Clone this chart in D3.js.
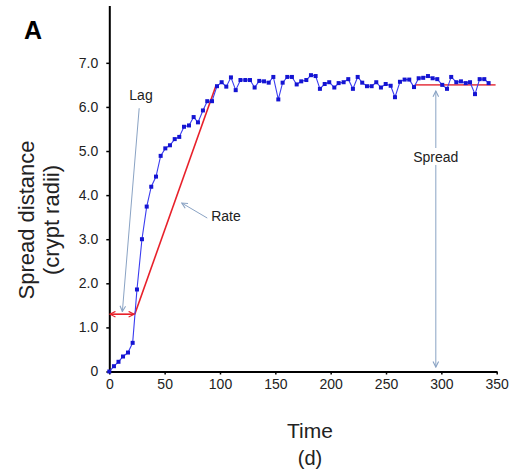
<!DOCTYPE html>
<html>
<head>
<meta charset="utf-8">
<script src="https://cdn.jsdelivr.net/npm/d3@7"></script>
<style>
  body { margin: 0; background: #fff; }
  text { font-family: "Liberation Sans", Arial, sans-serif; }
</style>
</head>
<body>
<svg width="509" height="471"></svg>
<script>
// time (d) and spread distance (crypt radii)
const times = [0, 4.2, 8.3, 12.4, 16.9, 21.1, 25.0, 29.5, 33.8, 37.9, 42.2, 46.4, 50.6, 54.8, 59.1, 63.2,
  67.5, 72.0, 76.2, 80.1, 84.6, 88.5, 92.8, 97.3, 101.5, 105.7, 109.9, 114.2, 118.5, 122.9, 127.1,
  131.3, 135.5, 139.8, 144.0, 148.2, 152.7, 156.6, 160.8, 165.0, 169.3, 173.4, 178.0, 182.2, 186.4,
  190.3, 194.6, 198.7, 203.3, 207.2, 211.7, 215.9, 220.1, 224.4, 228.5, 232.8, 237.0, 241.2, 245.4,
  249.7, 254.2, 258.1, 262.6, 266.8, 271.0, 275.3, 279.5, 283.6, 287.9, 292.1, 296.3, 300.8, 305.1,
  308.9, 313.5, 317.7, 322.0, 325.9, 330.4, 334.6, 338.8, 342.7];
const spread = [0, 0.12, 0.22, 0.34, 0.43, 0.65, 1.86, 3.00, 3.74, 4.19, 4.42, 4.89, 5.06, 5.13, 5.27, 5.32,
  5.55, 5.58, 5.77, 5.65, 5.92, 6.13, 6.13, 6.47, 6.56, 6.46, 6.67, 6.38, 6.61, 6.61, 6.61,
  6.44, 6.59, 6.58, 6.55, 6.68, 6.17, 6.55, 6.68, 6.68, 6.51, 6.58, 6.61, 6.72, 6.70,
  6.41, 6.52, 6.56, 6.44, 6.54, 6.56, 6.63, 6.41, 6.68, 6.55, 6.47, 6.47, 6.56, 6.44,
  6.52, 6.48, 6.22, 6.57, 6.62, 6.62, 6.45, 6.65, 6.66, 6.70, 6.65, 6.63, 6.50, 6.41,
  6.68, 6.56, 6.58, 6.54, 6.56, 6.29, 6.63, 6.63, 6.54];

const xTicks = [0, 50, 100, 150, 200, 250, 300, 350];
const yTicks = [0, 1, 2, 3, 4, 5, 6, 7];

// annotation fits (data units)
const rateLine = [[23, 1.30], [96.5, 6.49]];
const plateauLine = [[276, 6.5], [349, 6.5]];
const lagArrow = [[0.5, 1.30], [22.5, 1.30]];
const spreadArrow = [[295, 6.36], [295, 0.1]];

const svg = d3.select('svg');
const x = d3.scaleLinear([0, 350], [109.3, 496.7]);
const y = d3.scaleLinear([0, 8.3], [371.5, 5.5]);

const defs = svg.append('defs');
function marker(id, color) {
  defs.append('marker')
      .attr('id', id)
      .attr('viewBox', '0 0 10 10')
      .attr('refX', 9).attr('refY', 5)
      .attr('markerWidth', 7).attr('markerHeight', 7)
      .attr('markerUnits', 'userSpaceOnUse')
      .attr('orient', 'auto-start-reverse')
    .append('path')
      .attr('d', 'M1,1 L9,5 L1,9')
      .attr('fill', 'none')
      .attr('stroke', color)
      .attr('stroke-width', 1.6);
}
marker('redHead', '#e8202a');
marker('blueHead', '#8aa3c4');

// axes
const yAxis = d3.axisLeft(y)
    .tickValues(yTicks)
    .tickSize(3)
    .tickSizeOuter(0)
    .tickPadding(8)
    .tickFormat(d => d === 0 ? '0' : d3.format('.1f')(d));
const gy = svg.append('g').attr('transform', `translate(${x(0)},0)`).call(yAxis);

const xAxis = d3.axisBottom(x)
    .tickValues(xTicks)
    .tickSize(3)
    .tickSizeOuter(0)
    .tickPadding(5);
const gx = svg.append('g').attr('transform', `translate(0,${y(0)})`).call(xAxis);

[gx, gy].forEach(g => {
  g.select('.domain').attr('stroke', '#000').attr('stroke-width', 2);
  g.selectAll('.tick line').attr('stroke', '#000').attr('stroke-width', 1.5);
  g.selectAll('.tick text').attr('fill', '#222').style('font-size', '14px')
      .style('font-family', '"Liberation Sans", Arial, sans-serif');
});

const pts = times.map((t, i) => [t, spread[i]]);
const line = d3.line().x(d => x(d[0])).y(d => y(d[1]));

// red fits
svg.append('path').attr('d', line(rateLine))
    .attr('stroke', '#e8202a').attr('stroke-width', 1.6).attr('fill', 'none');
svg.append('path').attr('d', line(plateauLine))
    .attr('stroke', '#e8505a').attr('stroke-width', 1.6).attr('fill', 'none');

// data
svg.append('path').attr('d', line(pts))
    .attr('stroke', '#3a3cf0').attr('stroke-width', 1.1).attr('fill', 'none');
svg.append('g').selectAll('rect').data(pts).join('rect')
    .attr('x', d => x(d[0]) - 2).attr('y', d => y(d[1]) - 2)
    .attr('width', 4).attr('height', 4)
    .attr('fill', '#1414d2');

// lag double arrow
svg.append('path').attr('d', line(lagArrow))
    .attr('stroke', '#e8202a').attr('stroke-width', 1.6).attr('fill', 'none')
    .attr('marker-start', 'url(#redHead)').attr('marker-end', 'url(#redHead)');

// spread double arrow
svg.append('path').attr('d', line(spreadArrow))
    .attr('stroke', '#8aa3c4').attr('stroke-width', 1).attr('fill', 'none')
    .attr('marker-start', 'url(#blueHead)').attr('marker-end', 'url(#blueHead)');

// label pointers
svg.append('line')
    .attr('x1', x(27)).attr('y1', y(5.97)).attr('x2', x(11.8)).attr('y2', y(1.36))
    .attr('stroke', '#8aa3c4').attr('stroke-width', 1)
    .attr('marker-end', 'url(#blueHead)');
svg.append('line')
    .attr('x1', x(88.5)).attr('y1', y(3.48)).attr('x2', x(65.5)).attr('y2', y(3.82))
    .attr('stroke', '#8aa3c4').attr('stroke-width', 1)
    .attr('marker-end', 'url(#blueHead)');

const lbl = (tx, ty, s, size, extra) => {
  const t = svg.append('text').attr('x', tx).attr('y', ty).text(s)
      .attr('fill', '#222').style('font-size', size + 'px');
  if (extra) extra(t);
  return t;
};
lbl(141, 100, 'Lag', 14, t => t.attr('text-anchor', 'middle'));
lbl(226, 221, 'Rate', 14, t => t.attr('text-anchor', 'middle'));
// Spread label sits over the arrow
svg.append('rect').attr('x', x(295) - 25).attr('y', 148).attr('width', 50).attr('height', 17).attr('fill', '#fff');
lbl(x(295), 162, 'Spread', 14, t => t.attr('text-anchor', 'middle'));

lbl(33, 39, 'A', 25, t => t.attr('text-anchor', 'middle').attr('fill', '#000').style('font-weight', 'bold'));

lbl(310, 438, 'Time', 21, t => t.attr('text-anchor', 'middle'));
lbl(310, 465, '(d)', 20, t => t.attr('text-anchor', 'middle'));

svg.append('text')
    .attr('transform', 'translate(34,220) rotate(-90)')
    .attr('text-anchor', 'middle').attr('fill', '#222').style('font-size', '22px')
    .text('Spread distance');
svg.append('text')
    .attr('transform', 'translate(59,220) rotate(-90)')
    .attr('text-anchor', 'middle').attr('fill', '#222').style('font-size', '22px')
    .text('(crypt radii)');
</script>
</body>
</html>
